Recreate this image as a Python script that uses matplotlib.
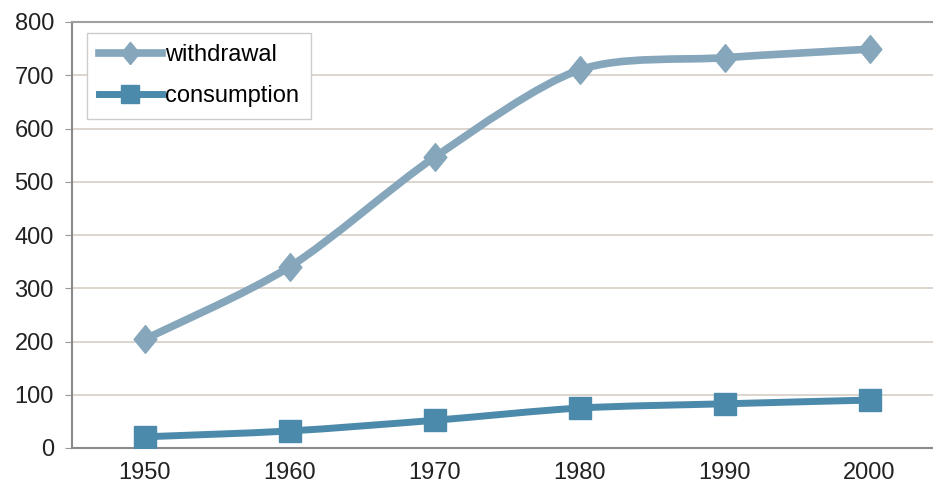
import numpy as np
import matplotlib
matplotlib.use("Agg")
import matplotlib.pyplot as plt
from matplotlib.path import Path
from matplotlib.patches import PathPatch
from matplotlib.lines import Line2D

plt.rcParams['font.family'] = ['Liberation Sans', 'DejaVu Sans']

years = ['1950', '1960', '1970', '1980', '1990', '2000']
withdrawal = [204, 340, 546, 710, 733, 749]
consumption = [21, 32, 52, 75, 83, 90]

c_with = '#85a6bb'
c_cons = '#4b8aaa'


def smooth_path(xs, ys, t=1/7):
    # Catmull-Rom style bezier, like a spreadsheet "smoothed line"
    pts = np.column_stack([xs, ys]).astype(float)
    verts = [pts[0]]
    codes = [Path.MOVETO]
    n = len(pts)
    for i in range(n - 1):
        p0 = pts[i - 1] if i > 0 else pts[i]
        p1 = pts[i]
        p2 = pts[i + 1]
        p3 = pts[i + 2] if i + 2 < n else pts[i + 1]
        c1 = p1 + (p2 - p0) * t
        c2 = p2 - (p3 - p1) * t
        verts += [c1, c2, p2]
        codes += [Path.CURVE4] * 3
    return Path(verts, codes)


fig = plt.figure(figsize=(9.33, 4.97), dpi=100)
ax = fig.add_axes([72/933, 1-448/497, 870/933, 426/497])

x = np.arange(len(years))
for ys, col, lw in [(withdrawal, c_with, 5.5), (consumption, c_cons, 5.0)]:
    ax.add_patch(PathPatch(smooth_path(x, ys), facecolor='none', edgecolor=col,
                           lw=lw, capstyle='round', joinstyle='round', zorder=3))
diamond = [(0, -1), (0.82, 0), (0, 1), (-0.82, 0), (0, -1)]
ax.plot(x, withdrawal, ls='none', marker=diamond, ms=20, color=c_with, mec=c_with, zorder=4)
ax.plot(x, consumption, ls='none', marker='s', ms=16, color=c_cons, mec=c_cons, zorder=4)

ax.set_xlim(-0.5, 5.5)
ax.set_ylim(0, 800)
ax.set_yticks(range(0, 801, 100))
ax.set_xticks(x)
ax.set_xticklabels(years)
ax.tick_params(axis='both', labelsize=17, colors='#222222')
ax.tick_params(axis='x', length=0, pad=10)
ax.tick_params(axis='y', length=5, color='#999999', pad=8)
ax.yaxis.grid(True, color='#d6cec6', lw=1.2)
ax.set_axisbelow(True)
for s in ['left', 'bottom']:
    ax.spines[s].set_color('#8a8a8a')
    ax.spines[s].set_linewidth(1.5)
ax.spines['top'].set_color('#a0a0a0')
ax.spines['top'].set_linewidth(1.5)
ax.spines['right'].set_visible(False)

handles = [
    Line2D([], [], color=c_with, lw=5.5, marker=diamond, ms=16),
    Line2D([], [], color=c_cons, lw=5.0, marker='s', ms=13),
]
leg = ax.legend(handles, ['withdrawal', 'consumption'], loc='upper left',
                bbox_to_anchor=(0.017, 0.975), fontsize=17, fancybox=False,
                edgecolor='#cccccc', framealpha=1, handlelength=2.7,
                handletextpad=0.1, borderpad=0.5, labelspacing=0.8,
                borderaxespad=0)
leg.get_frame().set_linewidth(1.0)

fig.savefig('out.png', dpi=100)
